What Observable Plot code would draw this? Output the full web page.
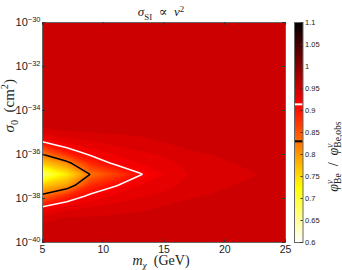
<!DOCTYPE html>
<html><head><meta charset="utf-8">
<script src="https://cdn.jsdelivr.net/npm/d3@7"></script>
<script src="https://cdn.jsdelivr.net/npm/@observablehq/plot@0.6"></script>
<style>
body{margin:0;background:#fff;}
#wrap{position:relative;width:342px;height:270px;background:#fff;}
#wrap svg{position:absolute;top:0;}
</style></head><body><div id="wrap"></div>
<script>
// ---- data ----
const mass = [5, 7, 9, 11, 13, 15, 17, 19, 21, 23, 25];           // m_chi (GeV), grid columns
const logSigma = [-40.4, -39.9, -39.4, -38.9, -38.4, -37.9, -37.4, -36.9, -36.4, -35.9, -35.4,
                  -34.9, -34.4, -33.9, -33.4, -32.9, -32.4, -31.9, -31.4, -30.9, -30.4, -29.9]; // log10 sigma_0, grid rows
// flux ratio phi_Be / phi_Be,obs, one row per logSigma (bottom to top), one value per mass
const ratioGrid = [
  [0.955,0.955,0.955,0.955,0.955,0.955,0.955,0.955,0.955,0.955,0.955],
  [0.955,0.955,0.955,0.955,0.955,0.955,0.955,0.955,0.955,0.955,0.955],
  [0.955,0.955,0.955,0.955,0.955,0.955,0.955,0.955,0.955,0.955,0.955],
  [0.946,0.951,0.952,0.953,0.954,0.955,0.955,0.955,0.955,0.955,0.955],
  [0.917,0.935,0.940,0.944,0.947,0.951,0.953,0.954,0.955,0.955,0.955],
  [0.843,0.893,0.922,0.934,0.939,0.943,0.949,0.951,0.953,0.954,0.955],
  [0.770,0.800,0.888,0.912,0.930,0.936,0.944,0.947,0.9505,0.952,0.954],
  [0.675,0.745,0.834,0.872,0.912,0.930,0.940,0.9435,0.9468,0.9505,0.953],
  [0.770,0.815,0.890,0.920,0.930,0.936,0.944,0.947,0.9505,0.952,0.954],
  [0.843,0.899,0.925,0.934,0.939,0.943,0.949,0.951,0.953,0.954,0.955],
  [0.917,0.935,0.940,0.944,0.947,0.951,0.953,0.954,0.955,0.955,0.955],
  [0.948,0.951,0.952,0.953,0.954,0.955,0.955,0.955,0.955,0.955,0.955],
  [0.955,0.955,0.955,0.955,0.955,0.955,0.955,0.955,0.955,0.955,0.955],
  [0.955,0.955,0.955,0.955,0.955,0.955,0.955,0.955,0.955,0.955,0.955],
  [0.955,0.955,0.955,0.955,0.955,0.955,0.955,0.955,0.955,0.955,0.955],
  [0.955,0.955,0.955,0.955,0.955,0.955,0.955,0.955,0.955,0.955,0.955],
  [0.955,0.955,0.955,0.955,0.955,0.955,0.955,0.955,0.955,0.955,0.955],
  [0.955,0.955,0.955,0.955,0.955,0.955,0.955,0.955,0.955,0.955,0.955],
  [0.955,0.955,0.955,0.955,0.955,0.955,0.955,0.955,0.955,0.955,0.955],
  [0.955,0.955,0.955,0.955,0.955,0.955,0.955,0.955,0.955,0.955,0.955],
  [0.955,0.955,0.955,0.955,0.955,0.955,0.955,0.955,0.955,0.955,0.955],
  [0.955,0.955,0.955,0.955,0.955,0.955,0.955,0.955,0.955,0.955,0.955]
];
const blackLevel = 0.83;    // black contour
const whiteLevel = 0.914;   // white contour
const xTicks = [5, 10, 15, 20, 25];
const yTicks = [-40, -38, -36, -34, -32, -30];
const cbTicks = [0.6, 0.65, 0.7, 0.75, 0.8, 0.85, 0.9, 0.95, 1, 1.05, 1.1];
const fillLevels = d3.range(60, 111).map(v => v / 100);

// labels (segments: i = italic, sub / sup)
const titleSegs = [{t:"σ",i:1},{t:"SI",sub:1},{t:"\u2002∝\u2002"},{t:"v",i:1},{t:"2",sup:1}];
const xLabelSegs = [{t:"m",i:1},{t:"χ",sub:1,i:1},{t:"\u00a0\u00a0(GeV)"}];
const yLabelSegs = [{t:"σ",i:1},{t:"0",sub:1},{t:"\u00a0\u00a0(cm"},{t:"2",sup:1},{t:")"}];
const cbLabelSegs = [{t:"φ",i:1},{t:"ν",sup:1,i:1},{t:"Be",sub:1,back:1},{t:"\u2002/\u2002"},{t:"φ",i:1},{t:"ν",sup:1,i:1},{t:"Be,obs",sub:1,back:1}];

// ---- rendering ----
const hot = {type: "linear", domain: [0.6, 0.725, 0.9125, 1.1], range: ["#ffffff", "#ffff00", "#ff0000", "#000000"], interpolate: "rgb"};
const W = 342, H = 270, mL = 42, mR = 57, mT = 22, mB = 28;
const innerW = W - mL - mR, innerH = H - mT - mB;
const serif = "'Liberation Serif', 'DejaVu Serif', serif";
const sans = "'Liberation Sans', Arial, sans-serif";
const plain = segs => segs.map(s => s.t).join("");
const sizes = new Map([[titleSegs, 13], [xLabelSegs, 14], [yLabelSegs, 15], [cbLabelSegs, 14]]);

const dm = mass[1] - mass[0], ds = logSigma[1] - logSigma[0];
const grid = {
  x1: mass[0] - dm / 2, x2: mass[mass.length - 1] + dm / 2,
  y1: logSigma[0] - ds / 2, y2: logSigma[logSigma.length - 1] + ds / 2,
  width: mass.length, height: logSigma.length, clip: true
};
const values = ratioGrid.flat();

const main = Plot.plot({
  width: W, height: H, marginLeft: mL, marginRight: mR, marginTop: mT, marginBottom: mB,
  x: {domain: [5, 25]},
  y: {domain: [-40, -30]},
  color: hot,
  style: {fontFamily: sans, fontSize: "11px", background: "white", color: "#222"},
  marks: [
    Plot.contour(values, {...grid, thresholds: fillLevels, fill: Plot.identity}),
    Plot.contour(values, {...grid, thresholds: [whiteLevel], stroke: "white", strokeWidth: 1.5}),
    Plot.contour(values, {...grid, thresholds: [blackLevel], stroke: "black", strokeWidth: 1.5}),
    Plot.frame({stroke: "#666"}),
    Plot.ruleX(xTicks, {insetTop: innerH - 3, stroke: "#333"}),
    Plot.ruleX(xTicks, {insetBottom: innerH - 3, stroke: "#333"}),
    Plot.ruleY(yTicks, {insetRight: innerW - 3, stroke: "#333"}),
    Plot.ruleY(yTicks, {insetLeft: innerW - 3, stroke: "#333"}),
    Plot.axisX(xTicks, {anchor: "bottom", tickSize: 0, tickPadding: 3, label: null, fontSize: 10.5}),
    Plot.axisY(yTicks, {anchor: "left", tickSize: 0, tickPadding: 2, label: null, fontSize: 11,
      tickFormat: d => "10" + (d < 0 ? "−" : "") + Math.abs(d)}),
    Plot.text([plain(titleSegs)], {frameAnchor: "top", lineAnchor: "middle", dy: -10.2, dx: -3, fontSize: 13, fontFamily: serif}),
    Plot.text([plain(xLabelSegs)], {frameAnchor: "bottom", lineAnchor: "middle", dy: 18.5, dx: -3, fontSize: 14, fontFamily: serif}),
    Plot.text([plain(yLabelSegs)], {frameAnchor: "left", lineAnchor: "middle", dx: -33.5, rotate: -90, fontSize: 15, fontFamily: serif})
  ]
});

const cbW = 57, cbL = 9, cbR = 57 - 17.5;
const cb = Plot.plot({
  width: cbW, height: H, marginLeft: cbL, marginRight: cbR, marginTop: mT, marginBottom: mB,
  x: {domain: [0, 1], axis: null},
  y: {domain: [0.6, 1.1]},
  color: hot,
  style: {fontFamily: sans, fontSize: "7.5px", background: "transparent", color: "#222"},
  marks: [
    Plot.raster({fill: (x, y) => y, x1: 0, x2: 1, y1: 0.6, y2: 1.1}),
    Plot.ruleY([whiteLevel], {stroke: "white", strokeWidth: 2}),
    Plot.ruleY([blackLevel], {stroke: "black", strokeWidth: 2}),
    Plot.frame({stroke: "#666"}),
    Plot.ruleY(cbTicks, {insetLeft: (cbW - cbL - cbR) - 2, stroke: "#333"}),
    Plot.axisY(cbTicks, {anchor: "right", tickSize: 0, tickPadding: 2, label: null, fontSize: 7.5,
      tickFormat: d => String(+d.toFixed(2))}),
    Plot.text([plain(cbLabelSegs)], {frameAnchor: "right", lineAnchor: "middle", dx: 30.5, dy: -11, rotate: -90, fontSize: 14, fontFamily: serif})
  ]
});
cb.style.left = "285px";

const wrap = document.getElementById("wrap");
wrap.appendChild(main);
wrap.appendChild(cb);

function rich(el, segs, size) {
  const t = d3.select(el);
  t.text(null);
  let off = 0, lastSup = null;
  for (const s of segs) {
    const target = s.sup ? -0.38 * size : s.sub ? 0.25 * size : 0;
    const sp = t.append("tspan").text(s.t);
    if (s.sup || s.sub) sp.attr("font-size", 0.68 * size);
    if (s.i) sp.attr("font-style", "italic");
    if (s.back && lastSup) sp.attr("dx", -lastSup.node().getComputedTextLength());
    if (target !== off) { sp.attr("dy", target - off); off = target; }
    lastSup = s.sup ? sp : null;
  }
}
for (const svg of [main, cb]) {
  d3.select(svg).selectAll("text").each(function () {
    const txt = this.textContent;
    for (const [segs, size] of sizes) if (txt === plain(segs)) rich(this, segs, size);
  });
}
d3.select(main).selectAll('g[aria-label="y-axis tick label"] text').each(function () {
  const txt = this.textContent;
  rich(this, [{t: "10"}, {t: txt.slice(2), sup: 1}], 11);
});
</script></body></html>
